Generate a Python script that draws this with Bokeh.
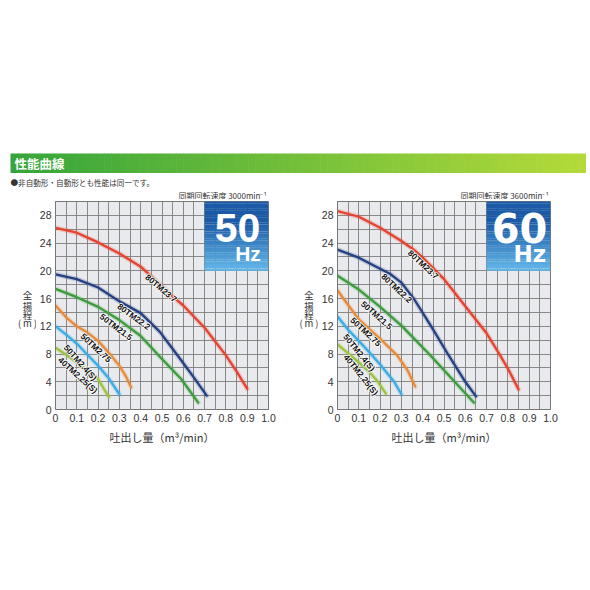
from bokeh.plotting import figure
from bokeh.models import Range1d, FixedTicker
from bokeh.layouts import column, row
from bokeh.embed import file_html
from bokeh.resources import INLINE
from bokeh.core.properties import value

# ---------------- data ----------------
x_ticks = [0, 0.1, 0.2, 0.3, 0.4, 0.5, 0.6, 0.7, 0.8, 0.9, 1.0]
x_tick_labels = ["0", "0.1", "0.2", "0.3", "0.4", "0.5", "0.6", "0.7", "0.8", "0.9", "1.0"]
y_ticks = [0, 4, 8, 12, 16, 20, 24, 28]

models = ["80TM23.7", "80TM22.2", "50TM21.5", "50TM2.75", "50TM2.4(S)", "40TM2.25(S)"]
colors = ["#e5432f", "#243f82", "#3c9c3c", "#e88a3a", "#38ace6", "#9cc23e"]

# 50 Hz  (flow m3/min, head m)
q50_80TM23_7 = [0, 0.1, 0.2, 0.3, 0.4, 0.5, 0.55, 0.6, 0.7, 0.8, 0.85, 0.9]
h50_80TM23_7 = [26.2, 25.5, 24.1, 22.5, 20.6, 17.8, 16.3, 15.0, 11.8, 7.8, 5.5, 3.0]
q50_80TM22_2 = [0, 0.1, 0.2, 0.3, 0.4, 0.49, 0.59, 0.65, 0.71]
h50_80TM22_2 = [19.5, 18.8, 17.6, 15.6, 13.9, 11.2, 7.1, 4.6, 2.0]
q50_50TM21_5 = [0, 0.1, 0.2, 0.3, 0.4, 0.49, 0.59, 0.67]
h50_50TM21_5 = [17.4, 16.2, 14.8, 12.9, 10.6, 7.6, 4.4, 1.0]
q50_50TM2_75 = [0, 0.05, 0.1, 0.15, 0.2, 0.25, 0.3, 0.33, 0.355]
h50_50TM2_75 = [15.0, 13.3, 12.0, 11.1, 9.9, 8.2, 6.3, 4.8, 3.2]
q50_50TM2_4S = [0, 0.05, 0.1, 0.15, 0.2, 0.25, 0.3]
h50_50TM2_4S = [12.0, 10.8, 9.5, 7.9, 6.3, 4.5, 2.2]
q50_40TM2_25S = [0, 0.05, 0.1, 0.15, 0.2, 0.25]
h50_40TM2_25S = [8.9, 7.9, 6.8, 5.6, 4.4, 1.8]

# 60 Hz
q60_80TM23_7 = [0, 0.1, 0.2, 0.3, 0.36, 0.4, 0.5, 0.6, 0.7, 0.76, 0.8, 0.85]
h60_80TM23_7 = [28.6, 27.8, 26.2, 24.3, 23.0, 21.9, 18.8, 14.9, 11.0, 8.0, 5.9, 2.9]
q60_80TM22_2 = [0, 0.1, 0.2, 0.25, 0.3, 0.36, 0.44, 0.52, 0.6, 0.65]
h60_80TM22_2 = [23.05, 21.9, 20.3, 19.5, 18.3, 15.9, 12.0, 7.9, 4.0, 1.9]
q60_50TM21_5 = [0, 0.1, 0.2, 0.3, 0.43, 0.55, 0.64]
h60_50TM21_5 = [19.3, 17.3, 14.8, 12.1, 8.0, 4.0, 1.0]
q60_50TM2_75 = [0, 0.03, 0.1, 0.2, 0.28, 0.33, 0.365]
h60_50TM2_75 = [17.2, 15.9, 13.0, 10.2, 7.8, 5.6, 3.3]
q60_50TM2_4S = [0, 0.05, 0.1, 0.157, 0.2, 0.266, 0.3]
h60_50TM2_4S = [13.4, 11.5, 9.9, 8.0, 6.5, 4.0, 2.2]
q60_40TM2_25S = [0, 0.05, 0.1, 0.15, 0.19, 0.227]
h60_40TM2_25S = [9.4, 8.1, 6.8, 5.4, 4.0, 2.3]

series50 = [(q50_80TM23_7, h50_80TM23_7), (q50_80TM22_2, h50_80TM22_2),
            (q50_50TM21_5, h50_50TM21_5), (q50_50TM2_75, h50_50TM2_75),
            (q50_50TM2_4S, h50_50TM2_4S), (q50_40TM2_25S, h50_40TM2_25S)]
series60 = [(q60_80TM23_7, h60_80TM23_7), (q60_80TM22_2, h60_80TM22_2),
            (q60_50TM21_5, h60_50TM21_5), (q60_50TM2_75, h60_50TM2_75),
            (q60_50TM2_4S, h60_50TM2_4S), (q60_40TM2_25S, h60_40TM2_25S)]

# label placement (x, y, angle deg) for the model names along curves
lab50_x = [0.496, 0.368, 0.285, 0.19, 0.117, 0.105]
lab50_y = [17.5, 13.4, 11.9, 8.9, 6.75, 4.95]
lab50_a = [-40, -36, -37, -43, -48, -42]
lab60_x = [0.403, 0.278, 0.184, 0.133, 0.102, 0.11]
lab60_y = [20.9, 17.5, 13.6, 11.2, 8.2, 5.0]
lab60_a = [-43, -43, -41, -43, -51, -51]

title_text = "性能曲線"
note_text = "●非自動形・自動形とも性能は同一です。"
rpm50_text = "同期回転速度  3000min⁻¹"
rpm60_text = "同期回転速度  3600min⁻¹"
x_label = "吐出し量（m³/min）"
y_label_chars = ["全", "揚", "程", "(\u2009m\u2009)"]
y_label_pos = [16.55, 15.0, 13.56, 12.45]

CJK = "Noto Sans CJK JP"

# ---------------- geometry (page pixels) ----------------
HEAD_H = 199
YL_W = 36          # width of the y-label strip before each plot
BL = 19            # plot left border (tick labels)
FRAME_W = 213
FRAME_H = 208
BT, BB = 2, 45
P50_W = 246
P60_W = 264
FIG_H = BT + FRAME_H + BB


def lerp_hex(c1, c2, t):
    a = [int(c1[i:i + 2], 16) for i in (1, 3, 5)]
    b = [int(c2[i:i + 2], 16) for i in (1, 3, 5)]
    return "#%02x%02x%02x" % tuple(int(round(a[k] + (b[k] - a[k]) * t)) for k in range(3))


def plain(f):
    f.grid.visible = False
    f.outline_line_color = None
    f.background_fill_color = "white"
    f.border_fill_color = "white"
    return f


# ---------------- header ----------------
HW = 586
hdr = plain(figure(width=HW, height=HEAD_H, x_range=Range1d(0, HW), y_range=Range1d(HEAD_H, 0),
                   output_backend="svg", toolbar_location=None, title=None,
                   x_axis_location=None, y_axis_location=None, min_border=0))
nstrip = 80
bx0, bx1 = 10, 586
sw = (bx1 - bx0) / nstrip
lefts = [bx0 + i * sw for i in range(nstrip)]
rights = [l + sw + 0.6 for l in lefts]
scol = [lerp_hex("#35a53a", "#b4da3a", i / (nstrip - 1)) for i in range(nstrip)]
hdr.quad(left=lefts, right=rights, top=[153] * nstrip, bottom=[172.5] * nstrip,
         fill_color=scol, line_color=None)
hdr.text(x=[14], y=[163], text=[title_text], text_font=value(CJK), text_font_size="12.5px",
         text_font_style="bold", text_color="white", text_baseline="middle")
hdr.text(x=[10], y=[182], text=[note_text], text_font=value(CJK), text_font_size="7.6px",
         text_color="#333333", text_baseline="middle")
left_frame_right = YL_W + BL + FRAME_W
right_frame_right = YL_W + P50_W + YL_W + BL + FRAME_W
hdr.text(x=[left_frame_right, right_frame_right], y=[194.5, 194.5], text=[rpm50_text, rpm60_text],
         text_font=value(CJK), text_font_size="8px", text_color="#333333",
         text_align="right", text_baseline="middle")


def ylab_fig(cx):
    # same vertical borders and range as the plots so that the frames line up
    f = plain(figure(width=YL_W, height=FIG_H, x_range=Range1d(0, YL_W), y_range=Range1d(0, 30),
                     output_backend="svg", toolbar_location=None, title=None,
                     x_axis_location=None, y_axis_location=None,
                     min_border_left=0, min_border_right=0, min_border_top=BT, min_border_bottom=BB))
    f.text(x=[cx] * len(y_label_chars), y=y_label_pos, text=y_label_chars, text_font=value(CJK),
           text_font_size="9.5px", text_color="#333333", text_align="center", text_baseline="middle")
    return f


def panel(width, series, labx, laby, laba, hz, hz_font, hz_size, hz_hsize, hz_right):
    br = width - BL - FRAME_W
    p = figure(width=width, height=FIG_H, x_range=Range1d(0, 1.0), y_range=Range1d(0, 30),
               output_backend="svg", toolbar_location=None, title=None,
               min_border_left=BL, min_border_right=br, min_border_top=BT, min_border_bottom=BB)
    p.background_fill_color = "#e8eaed"
    p.border_fill_color = "white"
    p.outline_line_color = "#777777"
    p.xgrid.ticker = FixedTicker(ticks=[i * 0.05 for i in range(21)])
    p.ygrid.ticker = FixedTicker(ticks=list(range(0, 31, 2)))
    p.grid.grid_line_color = "#7e7e7e"
    p.grid.grid_line_width = 0.9
    p.xaxis.ticker = FixedTicker(ticks=x_ticks)
    p.xaxis.major_label_overrides = {t: s for t, s in zip(x_ticks, x_tick_labels)}
    p.yaxis.ticker = FixedTicker(ticks=y_ticks)
    for ax in (p.xaxis, p.yaxis):
        ax.major_tick_line_color = None
        ax.minor_tick_line_color = None
        ax.major_tick_out = 0
        ax.major_tick_in = 0
        ax.minor_tick_out = 0
        ax.minor_tick_in = 0
        ax.axis_line_color = "#777777"
        ax.major_label_text_font = "Liberation Sans"
        ax.major_label_text_font_size = "10.5px"
        ax.major_label_text_color = "#333333"
        ax.major_label_standoff = 4
    p.xaxis.axis_label = x_label
    p.xaxis.axis_label_text_font = CJK
    p.xaxis.axis_label_text_font_size = "11px"
    p.xaxis.axis_label_text_font_style = "normal"
    p.xaxis.axis_label_text_color = "#333333"
    p.xaxis.axis_label_standoff = 4

    # badge gradient
    n = 30
    ys = [20 + 10 * i / n for i in range(n + 1)]
    bcol = [lerp_hex("#62b6e8", "#1a5aa6", min(1.0, (i / (n - 1)) * 1.4)) for i in range(n)]
    p.quad(left=[0.70] * n, right=[1.0] * n, bottom=ys[:-1], top=[y + 10 / n + 0.02 for y in ys[:-1]],
           fill_color=bcol, line_color=None)
    p.text(x=[0.855], y=[26.2], text=[hz], text_font=value(hz_font), text_font_style="bold",
           text_font_size=hz_size, text_color="white", text_align="center", text_baseline="middle")
    p.text(x=[hz_right], y=[22.5], text=["Hz"], text_font=value(hz_font), text_font_style="bold",
           text_font_size=hz_hsize, text_color="white", text_align="right", text_baseline="middle")

    for (q, h), c in zip(series, colors):
        p.line(q, h, line_color=c, line_width=5.0, line_alpha=0.2, line_cap="round", line_join="round")
        p.line(q, h, line_color=c, line_width=2.3, line_cap="round", line_join="round")

    common = dict(angle=laba, angle_units="deg", text_font=value("Liberation Sans"),
                  text_font_style="bold", text_font_size="8.5px",
                  text_align="center", text_baseline="middle")
    for dx, dy in [(-0.9, 0), (0.9, 0), (0, -0.9), (0, 0.9)]:
        p.text(x=labx, y=laby, text=models, text_color="white", x_offset=dx, y_offset=dy, **common)
    p.text(x=labx, y=laby, text=models, text_color="#111111", **common)
    return p


p50 = panel(P50_W, series50, lab50_x, lab50_y, lab50_a, "50",
            "Liberation Sans", "41px", "21px", 0.964)
p60 = panel(P60_W, series60, lab60_x, lab60_y, lab60_a, "60",
            "DejaVu Sans", "40px", "23px", 0.979)

layout = column(hdr, row(ylab_fig(27.0), p50, ylab_fig(26.5), p60))
open("out.html", "w").write(file_html(layout, INLINE))
